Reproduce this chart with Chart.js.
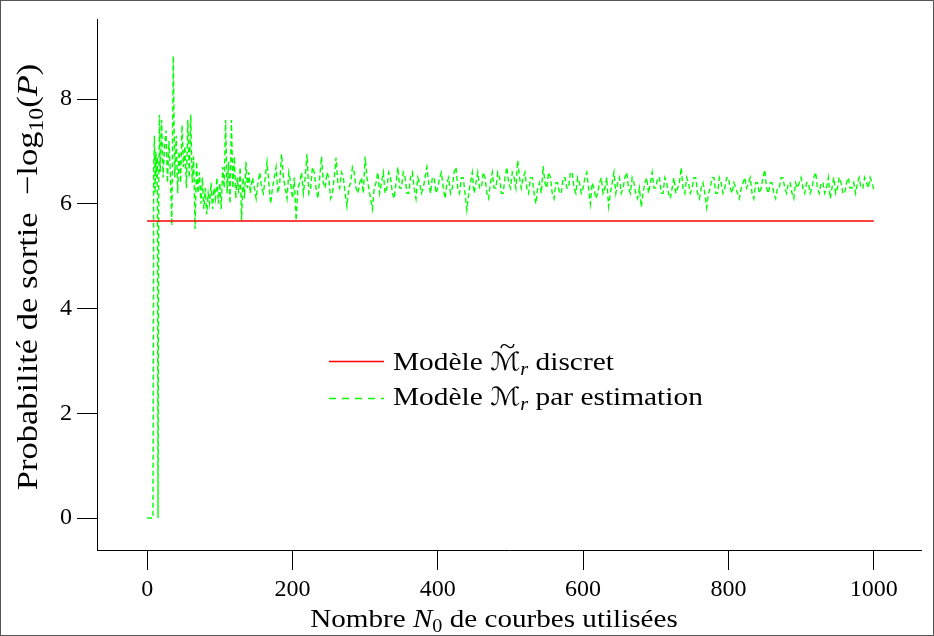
<!DOCTYPE html>
<html><head><meta charset="utf-8">
<script src="https://cdn.jsdelivr.net/npm/chart.js@4/dist/chart.umd.min.js"></script>
<style>html,body{margin:0;padding:0;background:#fff}canvas{display:block}</style>
</head><body>
<canvas id="c" width="934" height="636"></canvas>
<script>
// ---- data ----
const xTicks = [0, 200, 400, 600, 800, 1000];
const yTicks = [0, 2, 4, 6, 8];
const discretLabel = 'Modèle M̃r discret';
const estimLabel = 'Modèle Mr par estimation';
const discretX = [0, 1000];
const discretY = [5.67, 5.67];
// early part of the estimated curve (N0 = 0 .. 142)
const earlyX = [
  0, 4, 8, 9, 10, 11, 12, 13, 14, 15, 16, 17, 18, 20, 22, 24, 26, 28, 30, 32,
  34, 36, 38, 40, 42, 44, 46, 48, 50, 52, 54, 56, 58, 60, 62, 64, 66, 68, 70, 72,
  74, 76, 78, 80, 82, 84, 86, 88, 90, 92, 94, 96, 98, 100, 102, 104, 106, 108, 110, 112,
  114, 116, 118, 120, 122, 124, 126, 128, 130, 132, 134, 136, 138, 140, 142
];
const earlyY = [
  0, 0, 0, 6.6, 7.3, 6.2, 7.0, 6.5, 6.9, 0, 6.3, 7.7, 6.6, 7.6, 6.5, 7.1, 7.4, 6.4, 7.2, 6.6,
  5.58, 8.82, 6.5, 7.3, 6.2, 7.0, 6.4, 7.5, 6.7, 7.1, 6.3, 7.6, 6.5, 7.7, 6.4, 6.9, 5.52, 6.8, 6.2, 6.6,
  6.0, 6.5, 5.9, 6.3, 5.8, 6.2, 6.0, 6.4, 5.9, 6.3, 6.1, 6.5, 6.0, 6.4, 5.9, 6.7, 6.3, 7.6, 6.2, 6.8,
  6.0, 7.6, 6.3, 6.9, 6.1, 6.5, 6.2, 6.7, 5.68, 6.5, 6.1, 6.8, 6.3, 6.6, 6.2
];
// stabilised part of the estimated curve (N0 = 145 .. 1000)
const laterX = [
  145, 147.5, 150, 152.5, 155, 157.5, 160, 162.5, 165, 167.5, 170, 172.5, 175, 177.5, 180, 182.5, 185, 187.5, 190, 192.5,
  195, 197.5, 200, 202.5, 205, 207.5, 210, 212.5, 215, 217.5, 220, 222.5, 225, 227.5, 230, 232.5, 235, 237.5, 240, 242.5,
  245, 247.5, 250, 252.5, 255, 257.5, 260, 262.5, 265, 267.5, 270, 272.5, 275, 277.5, 280, 282.5, 285, 287.5, 290, 292.5,
  295, 297.5, 300, 302.5, 305, 307.5, 310, 312.5, 315, 317.5, 320, 322.5, 325, 327.5, 330, 332.5, 335, 337.5, 340, 342.5,
  345, 347.5, 350, 352.5, 355, 357.5, 360, 362.5, 365, 367.5, 370, 372.5, 375, 377.5, 380, 382.5, 385, 387.5, 390, 392.5,
  395, 397.5, 400, 402.5, 405, 407.5, 410, 412.5, 415, 417.5, 420, 422.5, 425, 427.5, 430, 432.5, 435, 437.5, 440, 442.5,
  445, 447.5, 450, 452.5, 455, 457.5, 460, 462.5, 465, 467.5, 470, 472.5, 475, 477.5, 480, 482.5, 485, 487.5, 490, 492.5,
  495, 497.5, 500, 502.5, 505, 507.5, 510, 512.5, 515, 517.5, 520, 522.5, 525, 527.5, 530, 532.5, 535, 537.5, 540, 542.5,
  545, 547.5, 550, 552.5, 555, 557.5, 560, 562.5, 565, 567.5, 570, 572.5, 575, 577.5, 580, 582.5, 585, 587.5, 590, 592.5,
  595, 597.5, 600, 602.5, 605, 607.5, 610, 612.5, 615, 617.5, 620, 622.5, 625, 627.5, 630, 632.5, 635, 637.5, 640, 642.5,
  645, 647.5, 650, 652.5, 655, 657.5, 660, 662.5, 665, 667.5, 670, 672.5, 675, 677.5, 680, 682.5, 685, 687.5, 690, 692.5,
  695, 697.5, 700, 702.5, 705, 707.5, 710, 712.5, 715, 717.5, 720, 722.5, 725, 727.5, 730, 732.5, 735, 737.5, 740, 742.5,
  745, 747.5, 750, 752.5, 755, 757.5, 760, 762.5, 765, 767.5, 770, 772.5, 775, 777.5, 780, 782.5, 785, 787.5, 790, 792.5,
  795, 797.5, 800, 802.5, 805, 807.5, 810, 812.5, 815, 817.5, 820, 822.5, 825, 827.5, 830, 832.5, 835, 837.5, 840, 842.5,
  845, 847.5, 850, 852.5, 855, 857.5, 860, 862.5, 865, 867.5, 870, 872.5, 875, 877.5, 880, 882.5, 885, 887.5, 890, 892.5,
  895, 897.5, 900, 902.5, 905, 907.5, 910, 912.5, 915, 917.5, 920, 922.5, 925, 927.5, 930, 932.5, 935, 937.5, 940, 942.5,
  945, 947.5, 950, 952.5, 955, 957.5, 960, 962.5, 965, 967.5, 970, 972.5, 975, 977.5, 980, 982.5, 985, 987.5, 990, 992.5,
  995, 997.5, 1000
];
const laterY = [
  6.5, 6.3, 6.1, 6.4, 6.6, 6.3, 6.2, 6.5, 6.8, 6.4, 6.0, 6.3, 6.5, 6.7, 6.2, 6.4, 6.95, 6.5, 6.3, 6.1,
  6.6, 6.4, 6.1, 6.5, 5.68, 6.3, 6.4, 6.6, 6.2, 6.5, 6.95, 6.2, 6.3, 6.7, 6.6, 6.3, 6.1, 6.5, 6.9, 6.4,
  6.3, 6.6, 6.5, 6.1, 6.2, 6.5, 6.88, 6.4, 6.3, 6.6, 6.5, 6.2, 5.95, 6.3, 6.4, 6.7, 6.6, 6.3, 6.2, 6.4,
  6.5, 6.2, 6.9, 6.5, 6.3, 6.1, 5.9, 6.3, 6.4, 6.6, 6.2, 6.4, 6.6, 6.2, 6.3, 6.6, 6.5, 6.2, 6.1, 6.4,
  6.7, 6.3, 6.3, 6.6, 6.5, 6.2, 6.2, 6.5, 6.6, 6.3, 6.1, 6.5, 6.4, 6.2, 6.3, 6.5, 6.7, 6.4, 6.2, 6.5,
  6.5, 6.2, 6.3, 6.5, 6.6, 6.3, 6.1, 6.4, 6.5, 6.2, 6.3, 6.6, 6.7, 6.3, 6.2, 6.5, 6.5, 6.2, 5.88, 6.2,
  6.4, 6.6, 6.2, 6.4, 6.6, 6.3, 6.3, 6.6, 6.5, 6.2, 6.1, 6.4, 6.6, 6.3, 6.3, 6.6, 6.5, 6.2, 6.2, 6.5,
  6.7, 6.4, 6.3, 6.6, 6.5, 6.3, 6.83, 6.5, 6.3, 6.5, 6.6, 6.3, 6.2, 6.5, 6.5, 6.2, 6.0, 6.3, 6.4, 6.2,
  6.72, 6.4, 6.3, 6.6, 6.5, 6.2, 6.1, 6.4, 6.4, 6.2, 6.2, 6.5, 6.5, 6.3, 6.3, 6.6, 6.6, 6.3, 6.2, 6.5,
  6.4, 6.2, 6.3, 6.5, 6.6, 6.3, 6.0, 6.4, 6.3, 6.1, 6.2, 6.4, 6.5, 6.2, 6.3, 6.5, 5.95, 6.2, 6.4, 6.6,
  6.2, 6.4, 6.5, 6.2, 6.3, 6.5, 6.6, 6.3, 6.2, 6.5, 6.4, 6.2, 6.1, 6.3, 5.94, 6.2, 6.4, 6.5, 6.2, 6.4,
  6.6, 6.3, 6.3, 6.5, 6.5, 6.2, 6.2, 6.5, 6.4, 6.2, 6.1, 6.3, 6.5, 6.2, 6.3, 6.4, 6.69, 6.3, 6.2, 6.5,
  6.4, 6.2, 6.3, 6.5, 6.5, 6.2, 6.1, 6.3, 6.4, 6.2, 5.93, 6.2, 6.3, 6.5, 6.5, 6.2, 6.2, 6.5, 6.4, 6.2,
  6.3, 6.5, 6.5, 6.3, 6.2, 6.4, 6.3, 6.2, 6.1, 6.3, 6.4, 6.5, 6.3, 6.4, 6.5, 6.2, 6.1, 6.4, 6.4, 6.2,
  6.3, 6.5, 6.65, 6.3, 6.2, 6.4, 6.4, 6.2, 6.1, 6.3, 6.3, 6.5, 6.5, 6.3, 6.2, 6.4, 6.4, 6.2, 6.1, 6.4,
  6.3, 6.4, 6.5, 6.3, 6.2, 6.4, 6.4, 6.2, 6.3, 6.5, 6.6, 6.3, 6.2, 6.4, 6.4, 6.2, 6.3, 6.5, 6.1, 6.3,
  6.5, 6.2, 6.3, 6.5, 6.4, 6.2, 6.2, 6.4, 6.5, 6.3, 6.3, 6.4, 6.2, 6.4, 6.5, 6.3, 6.3, 6.5, 6.4, 6.3,
  6.5, 6.4, 6.28
];

// ---- styling helpers ----
const SERIF = '"Liberation Serif", "DejaVu Serif", serif';
const SCRIPT = '"DejaVu Sans", "DejaVu Serif", serif';
const RED = '#ff0000';
const GREEN = '#00ff00';

function fontOf(r, base) {
  const s = Math.round(base * (r.scale || 1));
  return (r.italic ? 'italic ' : '') + s + 'px ' + (r.family || SERIF);
}
// draws a sequence of text runs; hs = horizontal stretch of the text
function drawRuns(ctx, runs, x, y, base, align, hs) {
  ctx.save();
  ctx.translate(x, y);
  ctx.scale(hs || 1, 1);
  let total = 0;
  runs.forEach(r => { if (!r.over) { ctx.font = fontOf(r, base); total += ctx.measureText(r.t).width; } });
  let cx = align === 'center' ? -total / 2 : 0;
  let prev = null;
  ctx.textBaseline = 'alphabetic';
  runs.forEach(r => {
    ctx.font = fontOf(r, base);
    const w = ctx.measureText(r.t).width;
    if (r.over && prev) {
      ctx.textAlign = 'center';
      ctx.fillText(r.t, prev.x + prev.w / 2 + (r.dx || 0) * base, (r.dy || 0) * base);
      ctx.textAlign = 'left';
      return;
    }
    ctx.textAlign = 'left';
    ctx.fillText(r.t, cx, (r.dy || 0) * base);
    prev = { x: cx, w: w };
    cx += w;
  });
  ctx.restore();
}

const textPlugin = {
  id: 'texts',
  beforeDraw(chart) {
    const ctx = chart.ctx;
    ctx.save();
    ctx.fillStyle = '#fff';
    ctx.fillRect(0, 0, chart.width, chart.height);
    ctx.strokeStyle = '#555';
    ctx.lineWidth = 1;
    ctx.strokeRect(0.5, 0.5, chart.width - 1, chart.height - 1);
    ctx.restore();
  },
  afterDraw(chart) {
    const ctx = chart.ctx;
    const ds = chart.data.datasets;
    ctx.save();
    ctx.fillStyle = '#000';
    // x title
    drawRuns(ctx, [
      { t: 'Nombre ' }, { t: 'N', italic: true }, { t: '0', scale: 0.7, dy: 0.2 },
      { t: ' de courbes utilisées' }
    ], 494, 627, 26, 'center', 1.12);
    // y title (rotated)
    ctx.save();
    ctx.translate(37, 277);
    ctx.rotate(-Math.PI / 2);
    drawRuns(ctx, [
      { t: 'Probabilité de sortie  −log' }, { t: '10', scale: 0.7, dy: 0.22 },
      { t: '(' }, { t: 'P', italic: true }, { t: ')' }
    ], 0, 0, 29, 'center', 1.19);
    ctx.restore();
    // legend
    const lx1 = 329, lx2 = 384, tx = 393;
    const rows = [
      { y: 361, base: 370, ds: ds[0], runs: [
        { t: 'Modèle ' }, { t: 'ℳ', family: SCRIPT, scale: 0.95 }, { t: '~', over: true, dy: -0.62, dx: 0.08 },
        { t: 'r', italic: true, scale: 0.7, dy: 0.18 }, { t: ' discret' }] },
      { y: 398, base: 405, ds: ds[1], runs: [
        { t: 'Modèle ' }, { t: 'ℳ', family: SCRIPT, scale: 0.95 },
        { t: 'r', italic: true, scale: 0.7, dy: 0.18 }, { t: ' par estimation' }] }
    ];
    rows.forEach(row => {
      ctx.save();
      ctx.strokeStyle = row.ds.borderColor;
      ctx.lineWidth = row.ds.borderWidth;
      ctx.setLineDash(row.ds.borderDash && row.ds.borderDash.length ? [7, 6] : []);
      ctx.beginPath();
      ctx.moveTo(lx1, row.y + 0.5);
      ctx.lineTo(lx2, row.y + 0.5);
      ctx.stroke();
      ctx.restore();
      ctx.fillStyle = '#000';
      drawRuns(ctx, row.runs, tx, row.base, 26, 'left', 1.13);
    });
    ctx.restore();
  }
};

const toPts = (xs, ys) => xs.map((x, i) => ({ x: x, y: ys[i] }));
const estimPts = toPts(earlyX, earlyY).concat(toPts(laterX, laterY));

new Chart(document.getElementById('c'), {
  type: 'scatter',
  data: {
    datasets: [
      { label: discretLabel, data: toPts(discretX, discretY), showLine: true,
        borderColor: RED, backgroundColor: RED, borderWidth: 1.5, pointRadius: 0, borderDash: [] },
      { label: estimLabel, data: estimPts, showLine: true,
        borderColor: GREEN, backgroundColor: GREEN, borderWidth: 1.4, pointRadius: 0,
        borderDash: [5, 3], tension: 0 }
    ]
  },
  options: {
    responsive: false,
    devicePixelRatio: 1,
    animation: false,
    layout: { padding: { left: 0, top: 18, right: 13, bottom: 0 } },
    plugins: { legend: { display: false }, tooltip: { enabled: false } },
    scales: {
      x: {
        type: 'linear', min: -69, max: 1065,
        afterBuildTicks: s => { s.ticks = xTicks.map(v => ({ value: v })); },
        afterFit: s => { s.height = 86; },
        grid: { display: true, drawOnChartArea: false, drawTicks: true, tickLength: 20, color: '#000', lineWidth: 1 },
        border: { display: true, color: '#000', width: 1 },
        ticks: { color: '#000', font: { family: SERIF, size: 24 }, padding: 5, maxRotation: 0, autoSkip: false,
                 callback: v => String(v) },
        title: { display: false }
      },
      y: {
        type: 'linear', min: -0.61, max: 9.52,
        afterBuildTicks: s => { s.ticks = yTicks.map(v => ({ value: v })); },
        afterFit: s => { s.width = 97; },
        grid: { display: true, drawOnChartArea: false, drawTicks: true, tickLength: 20, color: '#000', lineWidth: 1 },
        border: { display: true, color: '#000', width: 1 },
        ticks: { color: '#000', font: { family: SERIF, size: 24 }, padding: 5, autoSkip: false,
                 callback: v => String(v) },
        title: { display: false }
      }
    }
  },
  plugins: [textPlugin]
});
</script>
</body></html>
